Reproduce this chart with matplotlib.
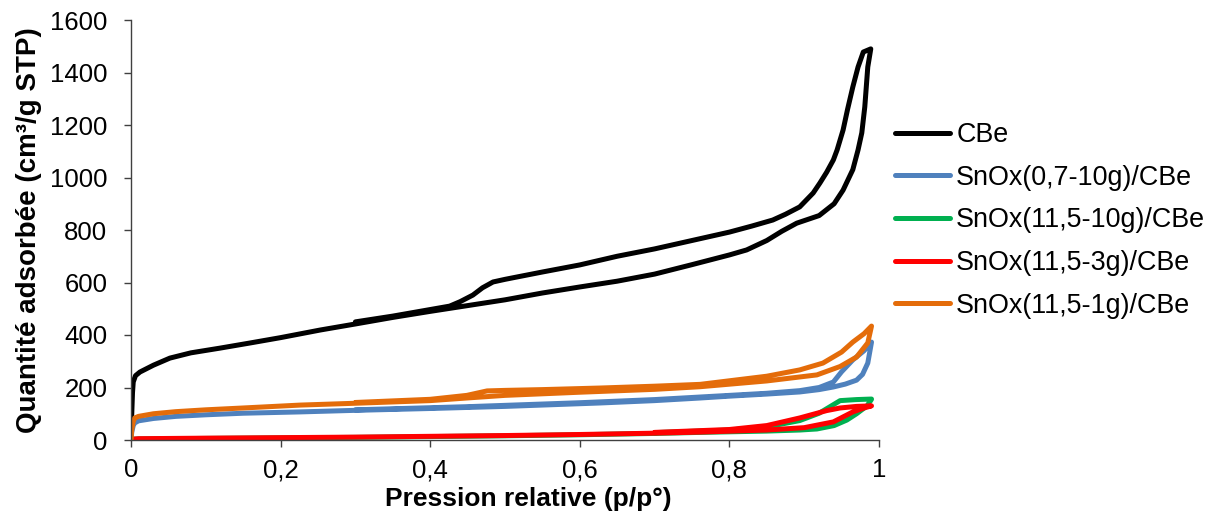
import matplotlib
matplotlib.use("Agg")
import matplotlib.pyplot as plt
from matplotlib.ticker import FuncFormatter, MultipleLocator

plt.rcParams['font.family'] = ['Liberation Sans', 'DejaVu Sans']

# ---- data ----
cbe_ads_x = [0.0, 0.001, 0.002, 0.003, 0.006, 0.012, 0.03, 0.052, 0.08, 0.119, 0.16, 0.2, 0.253,
             0.3, 0.35, 0.4, 0.45, 0.5, 0.55, 0.6, 0.65, 0.7, 0.75, 0.8, 0.823, 0.85, 0.87, 0.89,
             0.92, 0.94, 0.952, 0.965, 0.972, 0.977, 0.981, 0.985, 0.989]
cbe_ads_y = [5, 100, 180, 221, 245, 259, 285, 312, 332, 350, 370, 390, 419,
             442, 467, 490, 512, 534, 560, 583, 605, 632, 668, 705, 724, 760, 795, 826,
             855, 900, 952, 1030, 1105, 1170, 1269, 1421, 1490]
cbe_des_x = [0.989, 0.979, 0.972, 0.965, 0.958, 0.952, 0.944, 0.939, 0.93, 0.921, 0.912, 0.894,
             0.875, 0.858, 0.83, 0.8, 0.75, 0.7, 0.65, 0.6, 0.55, 0.516, 0.5, 0.484, 0.47,
             0.457, 0.44, 0.426, 0.4, 0.35, 0.3]
cbe_des_y = [1490, 1478, 1421, 1345, 1260, 1181, 1105, 1067, 1020, 979, 941, 888,
             860, 838, 815, 792, 760, 728, 700, 667, 640, 621, 612, 602, 580,
             552, 527, 510, 497, 472, 450]

blue_ads_x = [0.0, 0.001, 0.003, 0.005, 0.01, 0.03, 0.06, 0.1, 0.15, 0.226, 0.3, 0.4, 0.5,
              0.627, 0.7, 0.761, 0.8, 0.85, 0.894, 0.92, 0.939, 0.955, 0.97, 0.978, 0.985, 0.99]
blue_ads_y = [0, 30, 55, 65, 73, 82, 90, 96, 102, 107, 113, 120, 128,
              141, 150, 160, 167, 175, 183, 192, 202, 213, 228, 250, 293, 373]
blue_des_x = [0.99, 0.98, 0.965, 0.95, 0.939, 0.92, 0.894, 0.85, 0.8, 0.7, 0.6, 0.5, 0.45, 0.4, 0.3]
blue_des_y = [373, 340, 305, 260, 221, 200, 188, 178, 170, 154, 142, 132, 127, 123, 115]

green_ads_x = [0.0, 0.002, 0.01, 0.1, 0.2, 0.3, 0.4, 0.5, 0.6, 0.7, 0.761, 0.85, 0.894,
               0.917, 0.94, 0.957, 0.97, 0.984, 0.99]
green_ads_y = [0, 3, 4, 6, 8, 10, 13, 16, 20, 25, 29, 34, 38,
               42, 55, 76, 100, 130, 155]
green_des_x = [0.99, 0.97, 0.948, 0.934, 0.92, 0.894, 0.85, 0.8, 0.7]
green_des_y = [156, 154, 150, 126, 102, 74, 50, 38, 28]

red_ads_x = [0.0, 0.002, 0.01, 0.1, 0.2, 0.3, 0.4, 0.5, 0.6, 0.7, 0.761, 0.85, 0.9,
             0.939, 0.965, 0.98, 0.99]
red_ads_y = [0, 3, 5, 7, 9, 11, 14, 17, 21, 26, 30, 38, 47,
             69, 107, 122, 130]
red_des_x = [0.99, 0.97, 0.948, 0.93, 0.894, 0.85, 0.8, 0.7]
red_des_y = [130, 128, 122, 112, 84, 55, 40, 29]

orange_ads_x = [0.0, 0.001, 0.003, 0.005, 0.01, 0.03, 0.06, 0.1, 0.15, 0.226, 0.3, 0.4, 0.449,
                0.5, 0.6, 0.7, 0.761, 0.85, 0.917, 0.948, 0.97, 0.985, 0.99]
orange_ads_y = [0, 40, 70, 84, 90, 100, 108, 115, 122, 133, 140, 150, 160,
                170, 182, 193, 203, 225, 248, 280, 316, 370, 434]
orange_des_x = [0.99, 0.98, 0.965, 0.95, 0.925, 0.894, 0.85, 0.761, 0.7, 0.627, 0.55, 0.5,
                0.476, 0.449, 0.4, 0.3]
orange_des_y = [434, 405, 373, 335, 293, 267, 243, 212, 205, 198, 192, 189,
                187, 170, 155, 143]

labels = ["CBe", "SnOx(0,7-10g)/CBe", "SnOx(11,5-10g)/CBe", "SnOx(11,5-3g)/CBe", "SnOx(11,5-1g)/CBe"]
colors = ["#000000", "#4F81BD", "#00B050", "#FF0000", "#E46C0A"]
x_ticks = [0, 0.2, 0.4, 0.6, 0.8, 1.0]

series = [
    (cbe_ads_x + cbe_des_x, cbe_ads_y + cbe_des_y),
    (blue_ads_x + blue_des_x, blue_ads_y + blue_des_y),
    (green_ads_x + green_des_x, green_ads_y + green_des_y),
    (red_ads_x + red_des_x, red_ads_y + red_des_y),
    (orange_ads_x + orange_des_x, orange_ads_y + orange_des_y),
]

fig = plt.figure(figsize=(12.11, 5.21), dpi=100)
ax = fig.add_axes([131/1211, 1 - 440/521, (879-131)/1211, (440-20)/521])

for (xs, ys), lab, col in zip(series, labels, colors):
    ax.plot(xs, ys, color=col, lw=3.6, label=lab, solid_joinstyle='round',
            solid_capstyle='round')

ax.set_xlim(0, 1)
ax.set_ylim(0, 1600)
ax.set_xticks(x_ticks)
ax.yaxis.set_major_locator(MultipleLocator(200))
ax.xaxis.set_major_formatter(FuncFormatter(lambda v, p: ('%g' % v).replace('.', ',')))
for s in ['top', 'right']:
    ax.spines[s].set_visible(False)
for s in ['left', 'bottom']:
    ax.spines[s].set_color('#404040')
    ax.spines[s].set_linewidth(1.0)
ax.tick_params(axis='both', direction='out', length=5, width=1.0, color='#404040',
               labelsize=18.5, labelcolor='black')
ax.tick_params(axis='y', pad=12)
ax.tick_params(axis='x', pad=8)

ax.set_xlabel("Pression relative (p/p°)", fontsize=19, fontweight='bold')
ax.xaxis.set_label_coords((528-131)/(879-131), -0.112)
ax.set_ylabel("Quantité adsorbée (cm³/g STP)", fontsize=20, fontweight='bold', labelpad=6)

fig.legend(loc='upper left', bbox_to_anchor=(895/1211, 1 - 122/521), frameon=False,
           fontsize=19.4, handlelength=2.05, handletextpad=0.22, labelspacing=0.62,
           borderaxespad=0, borderpad=0)

fig.savefig("out.png", dpi=100)
